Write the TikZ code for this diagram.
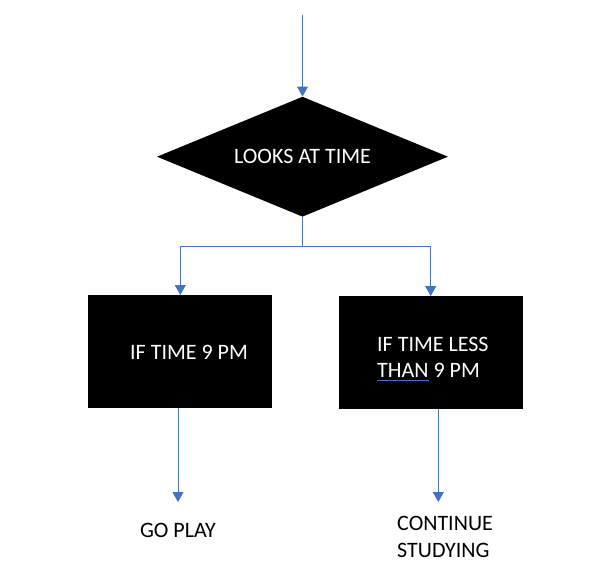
\documentclass[tikz,border=0pt]{standalone}
\usepackage{fontspec}
\setmainfont{Carlito}
\usetikzlibrary{shapes.geometric,arrows.meta}
\definecolor{lineblue}{RGB}{68,114,196}
\newcommand{\blueline}[1]{\setbox0\hbox{#1}\rlap{\color{lineblue}\rule[-3pt]{\wd0}{1.3pt}}#1}
\begin{document}
\begin{tikzpicture}[x=1pt, y=-1pt, line join=round, >={Triangle[width=11pt,length=10pt]},
	flow/.style={draw=lineblue, line width=1pt},
	box/.style={fill=black, minimum width=184pt, minimum height=113pt, inner sep=0pt},
	txt/.style={font=\fontsize{22}{26.5}\selectfont, inner sep=0pt, align=left}]
	\useasboundingbox (0,0) rectangle (610,586);
	\coordinate (S) at (302.5,15); % start of the flow
	\node[diamond, aspect=2.42, fill=black, minimum width=291pt, minimum height=120pt, inner sep=0pt, text=white, font=\fontsize{22}{26.5}\selectfont] (look) at (302.5,156.7) {LOOKS AT TIME};
	\node[box] (ifnine) at (180.3,351.7) {};
	\node[box] (ifless) at (430.7,352.7) {};
	\coordinate (split) at (302.5,246.7); % branch point
	\coordinate (tipL) at (178,502);
	\coordinate (tipR) at (438.3,502);
	\draw[flow,->] (S)--(look.north);
	\draw[flow] (look.south)--(split);
	\draw[flow,->] (split)-|(ifnine.north);
	\draw[flow,->] (split)-|(ifless.north);
	\draw[flow,->] (ifnine.south -| tipL)--(tipL);
	\draw[flow,->] (ifless.south -| tipR)--(tipR);
	\node[txt, text=white, anchor=north west] (tnine) at (130,344.6) {IF TIME 9 PM};
	\node[txt, text=white, anchor=north west] (tless) at (377,337) {IF TIME LESS\\\blueline{THAN} 9 PM};
	\node[txt, anchor=north] (goplay) at (178,523) {GO PLAY};
	\node[txt, anchor=north west] (cont) at (397,516.3) {CONTINUE\\STUDYING};
\end{tikzpicture}
\end{document}
